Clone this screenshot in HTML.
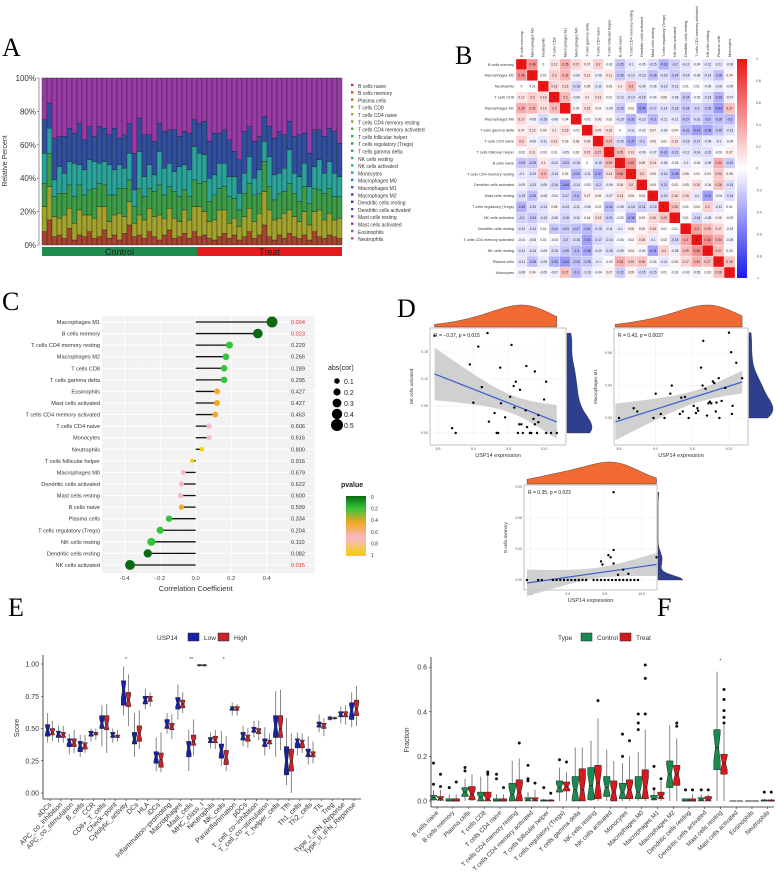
<!DOCTYPE html>
<html><head><meta charset="utf-8"><title>Immune infiltration figure</title>
<style>
html,body{margin:0;padding:0;background:#fff;}
svg{display:block;font-family:"Liberation Sans",sans-serif;}
.pl{font-family:"Liberation Serif",serif;font-size:26px;}
</style></head>
<body>
<svg id="fig" width="777" height="895" viewBox="0 0 777 895" xmlns="http://www.w3.org/2000/svg">
<text class="pl" x="2" y="56">A</text>
<text class="pl" x="455" y="64">B</text>
<text class="pl" x="2" y="310">C</text>
<text class="pl" x="397" y="317">D</text>
<text class="pl" x="8" y="616">E</text>
<text class="pl" x="657" y="616">F</text>
<g id="pA"></g>
<g id="pB"></g>
<g id="pC"></g>
<g id="pD"></g>
<g id="pE"></g>
<g id="pF"></g>
</svg>
<script>
// ---------- Panel A data ----------
const aGroupNames=["B/plasma cells","T cells CD8/CD4","T helper/Treg/gd","NK/Monocytes","Macrophages","DC/Mast/other"];
const aG1=[8,15,5,6,4,10,3,6,5,8,4,5,9,4,6,3,7,12,5,6,4,8,5,3,6,9,4,5,7,4,8,5,6,4,3,5,7,4,6,3,5,8,4,6,12,5,3,6,4,7,5,4,6,3,8,5,4,6,5,4];
const aG2=[15,20,12,10,14,12,10,15,13,10,12,18,14,10,12,16,10,14,8,12,11,14,12,15,10,13,12,9,14,11,15,18,14,10,12,16,14,9,10,8,12,14,10,13,20,16,12,10,15,14,12,10,14,9,12,16,11,13,10,12];
const aG3=[14,20,12,15,13,14,16,15,12,15,18,14,13,16,12,15,17,13,10,16,14,12,15,18,14,13,16,15,12,14,16,14,18,12,15,13,14,16,12,10,14,15,16,12,18,14,12,15,13,16,14,12,15,13,14,12,16,15,14,13];
const aG4=[18,15,10,16,12,14,20,12,15,18,16,12,14,18,15,14,12,16,10,22,12,14,10,20,16,14,12,18,15,16,20,18,16,14,12,15,14,12,13,10,12,16,10,14,12,18,15,12,14,20,12,15,14,10,13,18,12,16,14,12];
const aG5=[20,15,25,18,22,20,18,25,18,20,15,22,20,18,25,16,20,18,22,20,25,18,20,17,22,20,25,18,20,22,16,18,20,22,25,18,20,22,15,20,25,18,22,20,15,18,22,25,20,17,22,25,18,20,22,18,22,20,25,20];
const aControlN=31;
const aTicks=["0%","20%","40%","60%","80%","100%"];
const aLegend=["B cells naive","B cells memory","Plasma cells","T cells CD8","T cells CD4 naive","T cells CD4 memory resting","T cells CD4 memory activated","T cells follicular helper","T cells regulatory (Tregs)","T cells gamma delta","NK cells resting","NK cells activated","Monocytes","Macrophages M0","Macrophages M1","Macrophages M2","Dendritic cells resting","Dendritic cells activated","Mast cells resting","Mast cells activated","Eosinophils","Neutrophils"];
// ---------- Panel B data ----------
const bNames=["B cells memory","Macrophages M2","Neutrophils","T cells CD8","Macrophages M1","Macrophages M0","T cells gamma delta","T cells CD4 naive","T cells follicular helper","B cells naive","T cells CD4 memory resting","Dendritic cells activated","Mast cells resting","T cells regulatory (Tregs)","NK cells activated","Dendritic cells resting","T cells CD4 memory activated","NK cells resting","Plasma cells","Monocytes"];
const bRows=[
[1,.46,0,.12,.35,.17,.07,.2,-.02,-.25,-.1,-.05,-.15,-.33,-.2,-.12,-.04,-.12,-.11,-.06],
[.46,1,.01,.2,.32,-.06,.12,-.06,.11,-.25,-.13,-.13,-.28,-.15,-.24,-.14,-.06,-.14,-.28,.04],
[0,.01,1,.16,.15,-.18,.05,-.11,.03,.1,.3,-.09,-.06,-.13,-.13,.01,.01,-.05,-.09,-.05],
[.12,.2,.16,1,.3,-.06,.1,.13,.01,-.12,-.14,-.16,-.04,.05,-.08,-.24,-.03,-.15,-.33,-.07],
[.35,.32,.15,.3,1,.04,.15,.03,-.05,-.23,.02,-.44,-.17,-.14,-.18,-.24,-.2,-.25,-.44,.27],
[.17,-.06,-.18,-.06,.04,1,-.01,.06,.02,-.15,-.32,-.13,-.3,-.11,-.11,-.27,-.16,-.3,-.28,-.3],
[.07,.12,.05,.1,.15,-.01,1,.09,.15,0,-.11,-.03,.07,-.06,.04,-.31,-.41,-.38,-.25,-.13],
[.2,-.06,-.11,.13,.03,.06,.09,1,.27,-.15,-.37,-.2,.06,.02,.13,-.15,-.17,-.09,-.1,-.04],
[-.02,.11,.03,.01,-.05,.02,.15,.27,1,.29,.13,-.06,-.07,-.31,-.21,-.11,-.14,-.15,-.02,.07],
[-.25,-.25,.1,-.12,-.23,-.15,0,-.15,.29,1,.45,.08,.14,-.08,-.02,-.1,-.04,-.09,.34,-.22],
[-.1,-.13,.3,-.14,.02,-.32,-.11,-.37,.13,.45,1,.2,.05,-.16,-.38,.06,.02,.04,.23,.05],
[-.05,-.13,-.09,-.16,-.44,-.13,-.03,-.2,-.06,.08,.2,1,.04,-.21,.03,.05,.15,-.04,.26,-.15],
[-.15,-.28,-.06,-.04,-.17,-.3,.07,.06,-.07,.14,.05,.04,1,-.15,.16,.15,-.1,-.41,-.04,-.15],
[-.33,-.15,-.13,.05,-.14,-.11,-.06,.02,-.31,-.08,-.16,-.21,-.15,1,.25,.01,.03,.2,-.11,.01],
[-.2,-.24,-.13,-.08,-.18,-.11,.04,.13,-.21,-.02,-.38,.03,.16,.25,1,.01,-.18,-.08,.05,-.02],
[-.12,-.14,.01,-.24,-.24,-.27,-.31,-.15,-.11,-.1,.06,.05,.15,.01,.01,1,.4,.29,.17,-.03],
[-.04,-.06,.01,-.03,-.2,-.16,-.41,-.17,-.14,-.04,.02,.15,-.1,.03,-.18,.4,1,.48,.34,-.05],
[-.12,-.14,-.05,-.15,-.25,-.3,-.38,-.09,-.15,-.09,.04,-.04,-.41,.2,-.08,.29,.48,1,.27,.03],
[-.11,-.28,-.09,-.33,-.44,-.28,-.25,-.1,-.02,.34,.23,.26,-.04,-.11,.05,.17,.34,.27,1,.26],
[-.06,.04,-.05,-.07,.27,-.3,-.13,-.04,.07,-.22,.05,-.15,-.15,.01,-.02,-.03,-.05,.03,.26,1]];
const bScaleTicks=[1,0.8,0.6,0.4,0.2,0,-0.2,-0.4,-0.6,-0.8,-1];
// ---------- Panel C data ----------
const cCells=["Macrophages M1","B cells memory","T cells CD4 memory resting","Macrophages M2","T cells CD8","T cells gamma delta","Eosinophils","Mast cells activated","T cells CD4 memory activated","T cells CD4 naive","Monocytes","Neutrophils","T cells follicular helper","Macrophages M0","Dendritic cells activated","Mast cells resting","B cells naive","Plasma cells","T cells regulatory (Tregs)","NK cells resting","Dendritic cells resting","NK cells activated"];
const cCor=[.43,.35,.19,.17,.16,.16,.12,.12,.11,.075,.075,.035,-.02,-.07,-.08,-.085,-.08,-.15,-.2,-.25,-.27,-.37];
const cP=[.004,.023,.229,.266,.289,.295,.427,.427,.463,.606,.616,.800,.916,.679,.622,.600,.599,.334,.204,.110,.082,.015];
const cXTicks=[-0.4,-0.2,0,0.2,0.4];
const cSizeLegend=[0.1,0.2,0.3,0.4,0.5];
const cPLegend=["0","0.2","0.4","0.6","0.8","1"];
// ---------- Panel D data ----------
const d1X=[8.45,9.07,9.2,8.95,9.12,9.0,8.7,8.75,9.38,9.54,9.57,9.6,9.66,9.52,9.39,9.58,9.75,9.87,10.03,10.0,9.74,9.85,9.92,9.3,9.22,9.45,9.33,9.35,9.65,9.68,9.76,9.87,9.92,9.63,9.7,9.8,9.82,9.9,10.03,10.1,10.18];
const d1Y=[.18,.16,.185,.127,.085,.056,.009,0,.121,.163,.087,.095,.08,.067,.055,.047,.124,.114,.095,.062,.042,.026,.033,.037,.021,.029,0,0,.016,.016,.011,.016,.02,0,0,0,0,0,0,0,0];
const d2X=[8.5,8.7,8.75,8.97,9.0,9.07,9.12,9.2,9.22,9.33,9.35,9.37,9.4,9.45,9.52,9.55,9.58,9.57,9.62,9.64,9.65,9.68,9.7,9.72,9.74,9.76,9.78,9.8,9.82,9.83,9.86,9.87,9.9,9.95,10.0,10.03,10.04,10.05,10.1,10.18];
const d2Y=[0,.012,.008,0,.03,.005,0,.03,.04,.005,.025,.008,.026,0,.015,.006,.009,.012,.062,.04,.095,.036,.003,.018,.02,.018,.045,.043,.008,.019,.049,0,.021,.037,.105,.081,.005,.015,.068,.049];
const d3X=[8.45,8.6,8.65,8.8,8.85,8.9,8.95,9.0,9.05,9.1,9.15,9.2,9.25,9.35,9.4,9.45,9.5,9.55,9.6,9.65,9.7,9.75,9.8,9.85,9.9,9.95,9.62,9.62,9.55,9.58,9.47,9.62,9.45,9.68,9.82,10.2,9.75];
const d3Y=[0,0,0,0,0,0,0,0,0,0,0,0,0,0,0,0,0,0,0,0,0,0,0,0,0,0,.085,.029,.024,.022,.015,.016,.018,.005,.006,.022,.01];
// ---------- Panel E data ----------
const eCats=["aDCs","APC_co_inhibition","APC_co_stimulation","B_cells","CCR","CD8+_T_cells","Check\u2212point","Cytolytic_activity","DCs","HLA","iDCs","Inflammation\u2212promoting","Macrophages","Mast_cells","MHC_class_I","Neutrophils","NK_cells","Parainflammation","pDCs","T_cell_co\u2212inhibition","T_cell_co\u2212stimulation","T_helper_cells","Tfh","Th1_cells","Th2_cells","TIL","Treg","Type_I_IFN_Reponse","Type_II_IFN_Reponse"];
const eLowMed=[.49,.46,.40,.37,.46,.54,.45,.80,.42,.72,.28,.53,.70,.35,.99,.41,.33,.66,.44,.49,.39,.52,.25,.40,.31,.53,.58,.61,.64];
const eLowQ1=[.44,.43,.36,.32,.44,.50,.43,.68,.38,.69,.23,.50,.65,.28,.985,.39,.27,.64,.41,.47,.36,.43,.14,.35,.28,.51,.57,.59,.57];
const eLowQ3=[.53,.48,.42,.40,.48,.60,.47,.87,.47,.75,.32,.57,.74,.40,.995,.43,.38,.67,.47,.51,.42,.60,.36,.42,.34,.55,.59,.63,.70];
const eLowMin=[.39,.39,.30,.28,.40,.36,.39,.60,.28,.65,.17,.46,.57,.17,.98,.35,.21,.60,.36,.43,.29,.28,.06,.29,.22,.47,.56,.54,.51];
const eLowMax=[.62,.52,.46,.45,.50,.68,.50,.98,.62,.81,.43,.62,.84,.49,1.0,.47,.48,.70,.52,.56,.51,.79,.58,.47,.44,.61,.60,.67,.78];
const eHighMed=[.47,.45,.39,.37,.46,.53,.44,.72,.46,.73,.26,.51,.69,.40,.99,.41,.28,.65,.43,.48,.40,.50,.25,.39,.30,.52,.58,.61,.65];
const eHighQ1=[.45,.43,.36,.34,.45,.49,.43,.67,.40,.71,.20,.49,.66,.37,.985,.39,.22,.64,.40,.46,.38,.43,.17,.35,.28,.50,.575,.59,.60];
const eHighQ3=[.50,.47,.42,.39,.47,.60,.45,.78,.52,.75,.31,.54,.72,.45,.995,.44,.33,.67,.45,.50,.41,.60,.34,.41,.32,.54,.585,.63,.72];
const eHighMin=[.40,.39,.31,.31,.41,.31,.40,.52,.34,.67,.16,.42,.62,.29,.98,.34,.17,.60,.35,.41,.34,.33,.00,.31,.23,.44,.565,.53,.52];
const eHighMax=[.56,.52,.49,.45,.50,.69,.49,.92,.64,.78,.47,.61,.78,.57,1.0,.49,.44,.69,.50,.56,.46,.80,.46,.46,.40,.58,.595,.68,.83];
const eSig=["","","","","","","","*","","","","","","**","","","*","","","","","","","","","","","",""];
const eYTicks=[0,0.25,0.5,0.75,1.0];
// ---------- Panel F data ----------
const fCats=["B cells naive","B cells memory","Plasma cells","T cells CD8","T cells CD4 naive","T cells CD4 memory resting","T cells CD4 memory activated","T cells follicular helper","T cells regulatory (Tregs)","T cells gamma delta","NK cells resting","NK cells activated","Monocytes","Macrophages M0","Macrophages M1","Macrophages M2","Dendritic cells resting","Dendritic cells activated","Mast cells resting","Mast cells activated","Eosinophils","Neutrophils"];
const fCMed=[.015,0,.04,.015,0,.03,.005,0,.06,.05,.07,.06,.04,.04,.01,.12,0,.005,.24,0,0,0];
const fCQ1=[.005,0,.02,0,0,0,0,0,.04,0,.005,.02,.01,.01,.005,.06,0,0,.14,0,0,0];
const fCQ3=[.025,.01,.06,.04,.01,.08,.015,.005,.09,.11,.15,.11,.08,.11,.025,.18,.01,.015,.32,0,0,.005];
const fCMax=[.05,.03,.10,.11,.03,.18,.04,.01,.15,.24,.27,.23,.17,.22,.05,.34,.01,.03,.58,0,0,.01];
const fTMed=[.01,0,.03,.01,0,.04,.005,0,.065,.05,.08,.04,.05,.06,.02,.12,0,.005,.17,0,0,0];
const fTQ1=[.003,0,.005,0,0,0,0,0,.045,0,.01,0,.01,.01,.01,.07,0,0,.12,0,0,0];
const fTQ3=[.02,.01,.065,.04,.01,.095,.015,.005,.085,.145,.16,.09,.095,.14,.04,.16,.01,.02,.21,0,0,.005];
const fTMax=[.05,.03,.12,.12,.03,.19,.05,.01,.13,.24,.37,.18,.20,.32,.09,.28,.03,.03,.34,0,0,.01];
const fOutCat=[0,0,0,0,1,1,2,2,3,3,4,4,4,5,6,6,6,6,7,7,8,8,10,12,12,12,13,13,13,13,13,13,14,14,14,15,15,16,16,17,17,18,18,18,18,18,21,21];
const fOutGrp=[0,0,1,1,0,1,0,0,1,1,0,0,1,1,0,0,0,1,0,1,0,1,1,0,0,1,0,0,0,1,1,1,0,0,1,1,1,0,1,0,1,1,1,1,1,1,0,1];
const fOutVal=[.17,.075,.12,.065,.06,.085,.15,.135,.13,.12,.12,.10,.06,.26,.16,.10,.09,.08,.06,.035,.185,.175,.45,.30,.20,.27,.39,.35,.32,.61,.55,.39,.155,.055,.1,.35,.335,.05,.05,.05,.05,.5,.455,.405,.375,.35,.04,.04];
const fYTicks=[0,0.2,0.4,0.6];

const NS="http://www.w3.org/2000/svg";
function mk(tag,at,par){const e=document.createElementNS(NS,tag);for(const k in at)e.setAttribute(k,at[k]);par.appendChild(e);return e;}
function tx(par,x,y,s,size,anchor,extra){const e=mk('text',Object.assign({x:x,y:y,'font-size':size,'text-anchor':anchor||'start'},extra||{}),par);e.textContent=s;return e;}

// ================= Panel A =================
(function(){
const g=document.getElementById('pA');
const X0=42,X1=342,Y0=245,Y1=78,n=aG1.length,bw=(X1-X0)/n;
const yS=v=>Y0-v/100*(Y0-Y1);
const cols=['#a8432f','#a3a22c','#3d9c47','#2aa39b','#30509f','#9a3aa7'];
const groups=[aG1,aG2,aG3,aG4,aG5];
for(let i=0;i<n;i++){
  let cum=0;
  for(let k=0;k<6;k++){
    const h=k<5?groups[k][i]:100-cum;
    const r=mk('rect',{x:X0+i*bw,y:yS(cum+h),width:bw,height:yS(cum)-yS(cum+h),fill:cols[k],stroke:'#1a1a1a','stroke-width':0.35},g);
    
    
    cum+=h;
  }
}
const ax=mk('line',{x1:X0-3,y1:Y1,x2:X0-3,y2:Y0,stroke:'#555','stroke-width':0.6},g);


aTicks.forEach((t,i)=>{
  const v=i*20;
  mk('line',{x1:X0-5,x2:X0-3,y1:yS(v),y2:yS(v),stroke:'#555','stroke-width':0.6},g);
  const e=tx(g,X0-6,yS(v)+3,t,8,'end',{fill:'#333'});
  
  
});
const yl=tx(g,0,0,'Relative Percent',7,'middle',{fill:'#333',transform:'translate(7,161) rotate(-90)'});


const cw=aControlN*bw;
const c1=mk('rect',{x:X0,y:247,width:cw,height:9,fill:'#1d8c4f'},g);


const c2=mk('rect',{x:X0+cw,y:247,width:X1-X0-cw,height:9,fill:'#e51a1d'},g);


const t1=tx(g,X0+cw/2,255,'Control',9,'middle',{fill:'#222'});


const t2=tx(g,X0+cw+(X1-X0-cw)/2,255,'Treat',9,'middle',{fill:'#222'});


const lc=['#b3373d','#b4562d','#a87234','#9c9b2e','#a6aa2a','#80a82f','#5ea53a','#3f9b3e','#2c9a50','#289e6f','#2aa38b','#2aa5a1','#2b97a9','#2d81a9','#2f60a1','#33459b','#3c3995','#5b3999','#8c37a1','#9b3b99','#a9468f','#b1467b'];
aLegend.forEach((s,i)=>{
  const y=86+i*7.3;
  const d=mk('rect',{x:351,y:y-2.2,width:2.4,height:2.4,fill:lc[i]},g);
  
  
  const e=tx(g,358,y+1.8,s,5,'start',{fill:'#333'});
  
  
});
})();

// ================= Panel B =================
(function(){
const g=document.getElementById('pB');
const X0=516,Y0=59,cs=10.95,n=bNames.length;
function col(v){const t=Math.min(1,Math.abs(v));
  if(v>=0){return `rgb(${Math.round(255-(255-235)*t)},${Math.round(255-(255-20)*t)},${Math.round(255-(255-20)*t)})`;}
  return `rgb(${Math.round(255-(255-25)*t)},${Math.round(255-(255-25)*t)},${Math.round(255-(255-240)*t)})`;}
for(let r=0;r<n;r++){
  for(let c=0;c<n;c++){
    const v=bRows[r][c];
    const e=mk('rect',{x:X0+c*cs,y:Y0+r*cs,width:cs,height:cs,fill:col(v),stroke:'#fff','stroke-width':0.3},g);
    
    
    const t=tx(g,X0+c*cs+cs/2,Y0+r*cs+cs/2+1.2,v===1?'1':String(v).replace('0.','.').replace('-.','-0.').replace(/^\./,'0.'),3.2,'middle',{fill:'#222'});
    
    
  }
  const l=tx(g,X0-2,Y0+r*cs+cs/2+1.3,bNames[r],3.8,'end',{fill:'#333'});
  
  
  const cl=tx(g,0,0,bNames[r],3.8,'start',{fill:'#333',transform:`translate(${X0+r*cs+cs/2+1.3},${Y0-2}) rotate(-90)`});
  
  
}
const defs=mk('defs',{},g);
const lg=mk('linearGradient',{id:'bgrad',x1:0,y1:0,x2:0,y2:1},defs);
mk('stop',{offset:'0','stop-color':'#eb1414'},lg);
mk('stop',{offset:'0.5','stop-color':'#ffffff'},lg);
mk('stop',{offset:'1','stop-color':'#1919f0'},lg);
const cb=mk('rect',{x:737,y:Y0,width:10,height:n*cs,fill:'url(#bgrad)'},g);


bScaleTicks.forEach((v,i)=>{
  const y=Y0+(1-v)/2*n*cs;
  const t=tx(g,756,y+1.2,String(v),3.4,'start',{fill:'#444'});
  
  
});
})();

// ================= Panel C =================
(function(){
const g=document.getElementById('pC');
const zero=195.7,k=177.5,Y0=322,dy=11.57;
const xS=v=>zero+v*k, yS=i=>Y0+i*dy;
const bg=mk('rect',{x:102,y:316,width:213,height:257,fill:'#f2f2f2'},g);


[-0.5,-0.3,-0.1,0.1,0.3,0.5].forEach(v=>mk('line',{x1:xS(v),x2:xS(v),y1:316,y2:573,stroke:'#fafafa','stroke-width':0.5},g));
cXTicks.forEach(v=>mk('line',{x1:xS(v),x2:xS(v),y1:316,y2:573,stroke:'#fff','stroke-width':1},g));
cCells.forEach((s,i)=>mk('line',{x1:102,x2:315,y1:yS(i),y2:yS(i),stroke:'#fff','stroke-width':1},g));
function pcol(p){if(p<0.1)return '#0a6a12';if(p<0.35)return '#33c43a';if(p<0.6)return '#f5a623';if(p<0.8)return '#f7b9cc';return '#f5d200';}
cCells.forEach((s,i)=>{
  const ln=mk('line',{x1:xS(0),x2:xS(cCor[i]),y1:yS(i),y2:yS(i),stroke:'#111','stroke-width':1.3},g);
  
  
  const d=mk('circle',{cx:xS(cCor[i]),cy:yS(i),r:2+8*Math.abs(cCor[i]),fill:pcol(cP[i])},g);
  
  
  const l=tx(g,100,yS(i)+2,s,5.6,'end',{fill:'#333'});
  
  
  const pv=tx(g,291,yS(i)+2,cP[i].toFixed(3),5.6,'start',{fill:cP[i]<0.05?'#e8262b':'#333'});
  
  
});
cXTicks.forEach(v=>{
  const t=tx(g,xS(v),580,v===0?'0.0':v.toFixed(1),5.8,'middle',{fill:'#444'});
  
  
});
const xt=tx(g,xS(0),591,'Correlation Coefficient',7.5,'middle',{fill:'#333'});


const st=tx(g,328,370,'abs(cor)',7,'start',{fill:'#222'});


cSizeLegend.forEach((v,i)=>{
  const y=381+i*11;
  const c=mk('circle',{cx:337,cy:y,r:2+8*v,fill:'#000'},g);
  
  
  const t=tx(g,344,y+3,String(v),7,'start',{fill:'#222'});
  
  
});
const pt=tx(g,341,487,'pvalue',7,'start',{fill:'#222','font-weight':'bold'});


const pd=mk('defs',{},g);
const pg=mk('linearGradient',{id:'pgrad',x1:0,y1:0,x2:0,y2:1},pd);
[['0','#0a6a12'],['0.2','#33c43a'],['0.45','#f5a623'],['0.7','#f7b9cc'],['1','#f5d200']].forEach(s=>mk('stop',{offset:s[0],'stop-color':s[1]},pg));
const pb=mk('rect',{x:346,y:496,width:20,height:60,fill:'url(#pgrad)'},g);


cPLegend.forEach((s,i)=>{
  const t=tx(g,371,499+i*11.6,s,5,'start',{fill:'#333'});
  
  
});
})();

// ================= Panel D =================
(function(){
const g=document.getElementById('pD');
function scatter(o){
  const xs=o.xs, ys=o.ys;
  const xS=v=>o.px0+(v-o.xmin)*o.kx, yS=v=>o.py0-(v-o.ymin0)*o.ky;
  const fr=mk('rect',{x:o.bx0,y:o.by0,width:o.bx1-o.bx0,height:o.by1-o.by0,fill:'#fff',stroke:'#999','stroke-width':0.6},g);
  
  
  o.xt.forEach(v=>{if(xS(v)>o.bx0&&xS(v)<o.bx1){mk('line',{x1:xS(v),x2:xS(v),y1:o.by0,y2:o.by1,stroke:'#ececec','stroke-width':0.5},g);
    const t=tx(g,xS(v),o.by1+5,v.toFixed(1),3.5,'middle',{fill:'#555'});
    
    }});
  o.yt.forEach(v=>{const y=yS(v);mk('line',{x1:o.bx0,x2:o.bx1,y1:y,y2:y,stroke:'#ececec','stroke-width':0.5},g);
    const t=tx(g,o.bx0-2,y+1.2,v.toFixed(2),3.5,'end',{fill:'#555'});
    
    });
  // regression
  const n=xs.length;let mx=0,my=0;xs.forEach((v,i)=>{mx+=v;my+=ys[i];});mx/=n;my/=n;
  let sxx=0,sxy=0;xs.forEach((v,i)=>{sxx+=(v-mx)**2;sxy+=(v-mx)*(ys[i]-my);});
  const b=sxy/sxx,a=my-b*mx;let sse=0;xs.forEach((v,i)=>{sse+=(ys[i]-a-b*v)**2;});const s=Math.sqrt(sse/(n-2));
  const xa=o.xmin,xb=Math.max(...xs);const up=[],lo=[];
  for(let j=0;j<=30;j++){const x=xa+(xb-xa)*j/30;const f=a+b*x;const se=2.02*s*Math.sqrt(1/n+(x-mx)**2/sxx);
    up.push(xS(x).toFixed(1)+','+yS(f+se).toFixed(1));lo.unshift(xS(x).toFixed(1)+','+yS(f-se).toFixed(1));}
  const band=mk('polygon',{points:up.concat(lo).join(' '),fill:'#c8c8c8','fill-opacity':0.85},g);
  
  
  const fl=mk('line',{x1:xS(xa),y1:yS(a+b*xa),x2:xS(xb),y2:yS(a+b*xb),stroke:'#3a5fcd','stroke-width':1.2},g);
  
  
  xs.forEach((v,i)=>{const p=mk('circle',{cx:xS(v),cy:yS(ys[i]),r:1.2,fill:'#000'},g);
    
    });
  const rt=tx(g,o.bx0+4,o.by0+9,o.label,5,'start',{fill:'#222'});
  
  
  const xl=tx(g,(o.bx0+o.bx1)/2,o.by1+12,'USP14 expression',5.5,'middle',{fill:'#333'});
  
  
  const yl=tx(g,0,0,o.ylab,4.5,'middle',{fill:'#333',transform:`translate(${o.bx0-17},${(o.by0+o.by1)/2}) rotate(-90)`});
  
  
  // densities
  function kde(arr,v,bwd){let s=0;arr.forEach(q=>{s+=Math.exp(-0.5*((v-q)/bwd)**2);});return s/(arr.length*bwd*2.5066);}
  const tp=[];const xa2=o.xmin,xb2=xb;let mxd=0;const dv=[];
  for(let j=0;j<=40;j++){const x=xa2+(xb2-xa2)*j/40;const d=kde(xs,x,0.3);dv.push([x,d]);mxd=Math.max(mxd,d);}
  tp.push(xS(xa2)+','+(o.by0-1));dv.forEach(p=>tp.push(xS(p[0]).toFixed(1)+','+(o.by0-1-p[1]/mxd*o.dh).toFixed(1)));tp.push(xS(xb2)+','+(o.by0-1));
  const td=mk('polygon',{points:tp.join(' '),fill:'#f26a33',stroke:'#333','stroke-width':0.4},g);
  
  
  const ymin=Math.min(...ys),ymax=Math.max(...ys);const rp=[];let mr=0;const rv=[];
  for(let j=0;j<=40;j++){const y=ymin+(ymax-ymin)*j/40;const d=kde(ys,y,o.ybw);rv.push([y,d]);mr=Math.max(mr,d);}
  rp.push((o.bx1+1)+','+yS(ymin));rv.forEach(p=>rp.push((o.bx1+1+p[1]/mr*o.dw).toFixed(1)+','+yS(p[0]).toFixed(1)));rp.push((o.bx1+1)+','+yS(ymax));
  const rd=mk('polygon',{points:rp.join(' '),fill:'#2e3f8f',stroke:'#333','stroke-width':0.4},g);
  
  
}
scatter({name:'nk-activated-plot',xs:d1X,ys:d1Y,bx0:430,bx1:566,by0:328,by1:445,xmin:8.45,px0:438-0.05*70.7,kx:70.7,ymin0:0,py0:433,ky:540,xt:[8.5,9.0,9.5,10.0],yt:[0,0.05,0.10,0.15],label:'R = \u22120.37, p = 0.015',ylab:'NK cells activated',dh:22,dw:25,ybw:0.02});
scatter({name:'macrophages-m1-plot',xs:d2X,ys:d2Y,bx0:614,bx1:748,by0:328,by1:445,xmin:8.45,px0:619-0.05*73.3,kx:73.3,ymin0:0,py0:418,ky:812,xt:[8.5,9.0,9.5,10.0],yt:[0,0.04,0.08],label:'R = 0.43, p = 0.0037',ylab:'Macrophages M1',dh:22,dw:24,ybw:0.012});
scatter({name:'b-cells-memory-plot',xs:d3X,ys:d3Y,bx0:524,bx1:657,by0:485,by1:590,xmin:8.45,px0:527,kx:74,ymin0:0,py0:580,ky:1033,xt:[8.5,9.0,9.5,10.0],yt:[0,0.03,0.06,0.09],label:'R = 0.35, p = 0.023',ylab:'B cells memory',dh:22,dw:25,ybw:0.004});
})();

// ================= Boxplot helper =================
function notchBox(g,x,w,q1,med,q3,mn,mx,yS,fill,name){
  const wl=mk('line',{x1:x,x2:x,y1:yS(mn),y2:yS(mx),stroke:'#7a7a7a','stroke-width':0.9},g);
  
  
  const nh=Math.min((q3-q1)*0.35,Math.max(med-q1,0),Math.max(q3-med,0));
  const p=[[x-w,q1],[x-w,med-nh],[x-w*0.5,med],[x-w,med+nh],[x-w,q3],[x+w,q3],[x+w,med+nh],[x+w*0.5,med],[x+w,med-nh],[x+w,q1]];
  const b=mk('polygon',{points:p.map(q=>q[0].toFixed(1)+','+yS(q[1]).toFixed(1)).join(' '),fill:fill,stroke:'#222','stroke-width':0.5},g);
  
  
  const m=mk('line',{x1:x-w*0.5,x2:x+w*0.5,y1:yS(med),y2:yS(med),stroke:'#222','stroke-width':0.8},g);
  
  
}

// ================= Panel E =================
(function(){
const g=document.getElementById('pE');
const Y0=793,k=129,X0=50,dx=10.86;
const yS=v=>Y0-v*k, xS=i=>X0+i*dx;
mk('line',{x1:43,x2:43,y1:655,y2:799,stroke:'#222','stroke-width':0.8},g);
mk('line',{x1:43,x2:361,y1:799,y2:799,stroke:'#222','stroke-width':0.8},g);
eYTicks.forEach(v=>{mk('line',{x1:41,x2:43,y1:yS(v),y2:yS(v),stroke:'#222','stroke-width':0.6},g);
  const t=tx(g,39,yS(v)+2.5,v.toFixed(2),7,'end',{fill:'#333'});
  
  });
const yl=tx(g,0,0,'Score',7,'middle',{fill:'#333',transform:'translate(19,728) rotate(-90)'});


eCats.forEach((c,i)=>{
  notchBox(g,xS(i)-2.4,2.3,eLowQ1[i],eLowMed[i],eLowQ3[i],eLowMin[i],eLowMax[i],yS,'#1621a8','low');
  notchBox(g,xS(i)+2.4,2.3,eHighQ1[i],eHighMed[i],eHighQ3[i],eHighMin[i],eHighMax[i],yS,'#c8232b','high');
  mk('line',{x1:xS(i),x2:xS(i),y1:799,y2:801,stroke:'#222','stroke-width':0.6},g);
  const t=tx(g,0,0,c,7,'end',{fill:'#333',transform:`translate(${xS(i)+2},${805}) rotate(-45)`});
  
  
  if(eSig[i]){const s=tx(g,xS(i),661,eSig[i],5,'middle',{fill:'#333'});
    
    }
});
const lt=tx(g,157,640,'USP14',6.5,'start',{fill:'#333'});


const l1=mk('rect',{x:188,y:633,width:11,height:8,fill:'#1621a8',stroke:'#222','stroke-width':0.5},g);


const lt1=tx(g,204,640,'Low',6.5,'start',{fill:'#333'});


const l2=mk('rect',{x:218,y:633,width:11,height:8,fill:'#c8232b',stroke:'#222','stroke-width':0.5},g);


const lt2=tx(g,234,640,'High',6.5,'start',{fill:'#333'});


})();

// ================= Panel F =================
(function(){
const g=document.getElementById('pF');
const Y0=801,k=223,X0=437,dx=15.75;
const yS=v=>Y0-v*k, xS=i=>X0+i*dx;
mk('line',{x1:431,x2:431,y1:657,y2:807,stroke:'#222','stroke-width':0.8},g);
mk('line',{x1:431,x2:774,y1:807,y2:807,stroke:'#222','stroke-width':0.8},g);
fYTicks.forEach(v=>{mk('line',{x1:429,x2:431,y1:yS(v),y2:yS(v),stroke:'#222','stroke-width':0.6},g);
  const t=tx(g,427,yS(v)+2.5,v.toFixed(1),7,'end',{fill:'#333'});
  
  });
const yl=tx(g,0,0,'Fraction',7,'middle',{fill:'#333',transform:'translate(409,740) rotate(-90)'});


fCats.forEach((c,i)=>{
  notchBox(g,xS(i)-3.5,3.3,fCQ1[i],fCMed[i],fCQ3[i],0,fCMax[i],yS,'#1b8a4e','control');
  notchBox(g,xS(i)+3.5,3.3,fTQ1[i],fTMed[i],fTQ3[i],0,fTMax[i],yS,'#d6191b','treat');
  mk('line',{x1:xS(i),x2:xS(i),y1:807,y2:809,stroke:'#222','stroke-width':0.6},g);
  const t=tx(g,0,0,c,6.2,'end',{fill:'#333',transform:`translate(${xS(i)+2},${813}) rotate(-45)`});
  
  
});
fOutVal.forEach((v,j)=>{
  const p=mk('circle',{cx:xS(fOutCat[j])+(fOutGrp[j]?3.5:-3.5),cy:yS(v),r:1.5,fill:'#111'},g);
  
  
});
const s=tx(g,xS(18),yS(0.63)+2,'*',5,'middle',{fill:'#333'});


const lt=tx(g,558,640,'Type',6.5,'start',{fill:'#333'});


const l1=mk('rect',{x:581,y:633,width:11,height:8,fill:'#1b8a4e',stroke:'#222','stroke-width':0.5},g);


const lt1=tx(g,597,640,'Control',6.5,'start',{fill:'#333'});


const l2=mk('rect',{x:620,y:633,width:11,height:8,fill:'#d6191b',stroke:'#222','stroke-width':0.5},g);


const lt2=tx(g,636,640,'Treat',6.5,'start',{fill:'#333'});


})();
</script>
</body></html>
